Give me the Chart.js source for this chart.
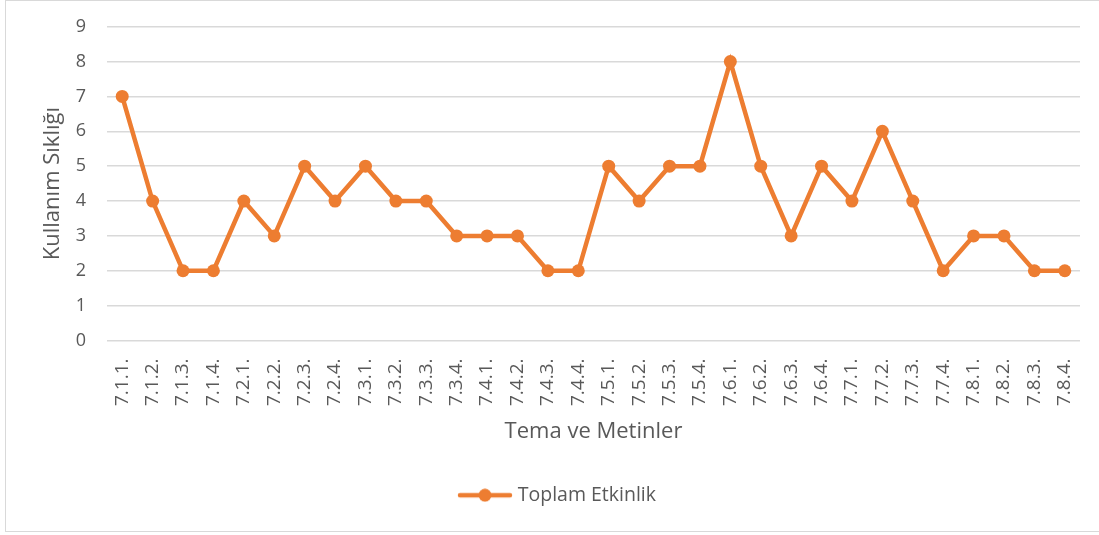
<!DOCTYPE html>
<html>
<head>
<meta charset="utf-8">
<script src="https://cdn.jsdelivr.net/npm/chart.js@4"></script>
<style>
  html, body { margin: 0; padding: 0; background: #fff; }
  #wrap { position: absolute; left: 0; top: 0; width: 1099px; height: 535px; }
</style>
</head>
<body>
<div id="wrap"><canvas id="myChart" width="1099" height="535"></canvas></div>
<script>
const categories = [
    '7.1.1.', '7.1.2.', '7.1.3.', '7.1.4.',
    '7.2.1.', '7.2.2.', '7.2.3.', '7.2.4.',
    '7.3.1.', '7.3.2.', '7.3.3.', '7.3.4.',
    '7.4.1.', '7.4.2.', '7.4.3.', '7.4.4.',
    '7.5.1.', '7.5.2.', '7.5.3.', '7.5.4.',
    '7.6.1.', '7.6.2.', '7.6.3.', '7.6.4.',
    '7.7.1.', '7.7.2.', '7.7.3.', '7.7.4.',
    '7.8.1.', '7.8.2.', '7.8.3.', '7.8.4.'
];
const toplamEtkinlik = [
    7, 4, 2, 2,
    4, 3, 5, 4,
    5, 4, 4, 3,
    3, 3, 2, 2,
    5, 4, 5, 5,
    8, 5, 3, 5,
    4, 6, 4, 2,
    3, 3, 2, 2
];
const yTicks = [0, 1, 2, 3, 4, 5, 6, 7, 8, 9];

const ORANGE = '#ED7D31';
const TEXT = '#595959';
const GRID = '#d9d9d9';
const FONT = "'Open Sans', 'Noto Sans', sans-serif";

// legend marker: line with a dot in the middle
function legendMarker() {
    const c = document.createElement('canvas');
    c.width = 56; c.height = 14;
    const g = c.getContext('2d');
    g.strokeStyle = ORANGE;
    g.lineWidth = 4.5;
    g.lineCap = 'round';
    g.beginPath();
    g.moveTo(3, 7); g.lineTo(53, 7);
    g.stroke();
    g.fillStyle = ORANGE;
    g.beginPath();
    g.arc(28, 7, 6.5, 0, Math.PI * 2);
    g.fill();
    return c;
}

// the original chart frame runs past the right edge of the picture,
// so the outline and the legend centre sit a bit to the right
const framePlugin = {
    id: 'outerFrame',
    afterLayout(chart) {
        const lg = chart.legend;
        if (lg) { lg.left += 16; lg.right += 16; }
    },
    beforeDraw(chart) {
        const ctx = chart.ctx;
        ctx.save();
        ctx.strokeStyle = GRID;
        ctx.lineWidth = 1;
        ctx.strokeRect(5.5, 0.5, 1110, 531);
        ctx.restore();
    }
};

const ctx = document.getElementById('myChart');
const marker = legendMarker();

new Chart(ctx, {
    type: 'line',
    data: {
        labels: categories,
        datasets: [{
            label: 'Toplam Etkinlik',
            data: toplamEtkinlik,
            borderColor: ORANGE,
            backgroundColor: ORANGE,
            borderWidth: 4.5,
            pointRadius: 6.5,
            pointHoverRadius: 6.5,
            pointBorderWidth: 0,
            pointStyle: 'circle',
            tension: 0
        }]
    },
    options: {
        responsive: false,
        animation: false,
        layout: { padding: { left: 6, right: 19, top: 26.7, bottom: 20 } },
        plugins: {
            legend: {
                position: 'bottom',
                labels: {
                    usePointStyle: true,
                    pointStyle: marker,
                    pointStyleWidth: 46,
                    color: TEXT,
                    padding: 10,
                    font: { family: FONT, size: 19.5 },
                    generateLabels(chart) {
                        return chart.data.datasets.map((ds, i) => ({
                            text: ds.label,
                            fillStyle: ORANGE,
                            strokeStyle: ORANGE,
                            lineWidth: 0,
                            pointStyle: marker,
                            fontColor: TEXT,
                            datasetIndex: i
                        }));
                    }
                }
            },
            tooltip: { enabled: false }
        },
        scales: {
            x: {
                offset: true,
                grid: { display: false },
                border: { display: false },
                ticks: {
                    color: TEXT,
                    font: { family: FONT, size: 19 },
                    minRotation: 90,
                    maxRotation: 90,
                    autoSkip: false,
                    padding: 10
                },
                title: {
                    display: true,
                    text: 'Tema ve Metinler',
                    color: TEXT,
                    font: { family: FONT, size: 22 },
                    padding: { top: 0, bottom: 31 }
                },
                afterFit(scale) { scale.height = 135; }
            },
            y: {
                min: 0,
                max: 9,
                grid: {
                    color: GRID,
                    lineWidth: 1.5,
                    drawTicks: true,
                    tickLength: 9,
                    tickColor: 'rgba(0,0,0,0)'
                },
                border: { display: false },
                afterBuildTicks(scale) { scale.ticks = yTicks.map(v => ({ value: v })); },
                ticks: {
                    color: TEXT,
                    font: { family: FONT, size: 18 },
                    padding: 12
                },
                title: {
                    display: true,
                    text: 'Kullanım Sıklığı',
                    color: TEXT,
                    font: { family: FONT, size: 22 },
                    padding: { top: 34, bottom: 0 }
                },
                afterFit(scale) { scale.width = 101; }
            }
        }
    },
    plugins: [framePlugin]
});
</script>
</body>
</html>
